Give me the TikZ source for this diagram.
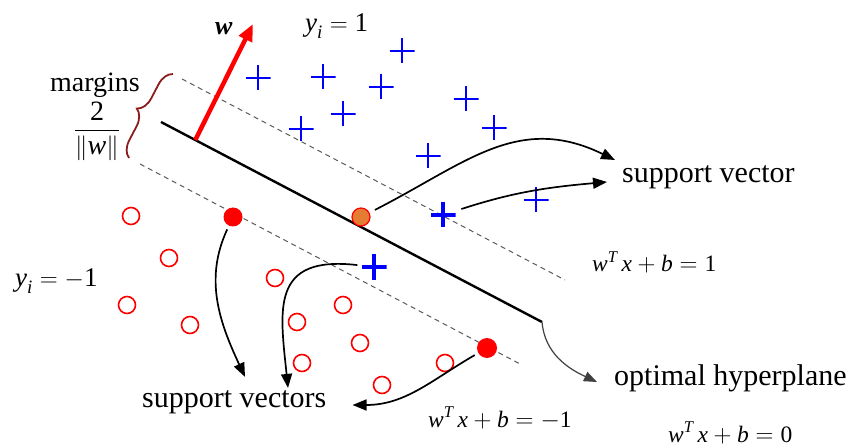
\documentclass[tikz,border=0pt]{standalone}
\usepackage{amsmath}
\usepackage{fontspec}
\setmainfont{Liberation Serif}
\usetikzlibrary{arrows.meta,calc,decorations.pathreplacing}

\definecolor{plusblue}{RGB}{0,0,255}
\definecolor{svorange}{RGB}{228,124,52}
\definecolor{bracered}{RGB}{140,28,28}
\newcommand{\vr}[1]{\textit{#1}}

\begin{document}
\begin{tikzpicture}[x=1pt,y=-1pt,
  hyper/.style={line width=2.4pt},
  marginline/.style={gray!70!black,line width=1pt,dash pattern=on 5pt off 4pt},
  conn/.style={line width=1.7pt,-{Triangle[length=14pt,width=11pt]},shorten <=4pt},
  opendot/.style={circle,draw=red,line width=1.6pt,minimum size=17pt,inner sep=0pt},
  svdot/.style={circle,fill=red,minimum size=19pt,inner sep=0pt},
  plusmark/.style={rectangle,minimum size=25pt,inner sep=0pt,
    path picture={\draw[plusblue,line width=2.2pt]
      (path picture bounding box.west) -- (path picture bounding box.east)
      (path picture bounding box.north) -- (path picture bounding box.south);}},
  svplus/.style={rectangle,minimum size=25pt,inner sep=0pt,
    path picture={\draw[plusblue,line width=4.6pt]
      (path picture bounding box.west) -- (path picture bounding box.east)
      (path picture bounding box.north) -- (path picture bounding box.south);}},
  lbl/.style={inner sep=0pt,font=\fontsize{30}{35}\selectfont},
  eqn/.style={inner sep=0pt,font=\fontsize{23.5}{28}\selectfont}]
\useasboundingbox (0,0) rectangle (856,446);

% hyperplane and margins
\coordinate (h1) at (161,122);
\coordinate (h2) at (542,322);
\coordinate (u1) at (182,79);
\coordinate (u2) at (565,280);
\coordinate (l1) at (140,164);
\coordinate (l2) at (522,365);
\draw[marginline] (u1) -- (u2);
\draw[marginline] (l1) -- (l2);
\draw[hyper] (h1) -- (h2);

% normal vector w
\coordinate (wtip) at (253,24);
\draw[red,line width=4.5pt,-{Triangle[length=17pt,width=14pt]}] ($(h1)!0.09!(h2)$) -- (wtip);
\node[inner sep=0pt,anchor=base west,font=\fontsize{26}{30}\selectfont] (wlab) at (215,35) {\textbf{\vr{w}}};

% margin brace
\coordinate (b1) at (129,158);
\coordinate (b2) at (173,74);
\draw[bracered,line width=1.8pt,decorate,decoration={brace,amplitude=16pt}] (b1) -- (b2);
\node[lbl,font=\fontsize{28}{32}\selectfont,anchor=base] (mlab) at (95,92) {margins};
\node[lbl,font=\fontsize{28}{32}\selectfont] (mfrac) at (97,131) {$\dfrac{\textrm{2}}{\|\vr{w}\|}$};

% class +1
\foreach \px/\py [count=\i] in {258/78,323/77,402/51,381/87,343/114,301/129,466/99,494/128,428/156,536/200}
  \node[plusmark] (p\i) at (\px,\py) {};
\node[svplus] (sv1) at (443,215) {};
\node[svplus] (sv3) at (374,267) {};

% class -1
\foreach \px/\py [count=\i] in {131/216,169/258,127/305,190/325,275/278,343/305,297/322,360/343,302/363,382/385,445/363}
  \node[opendot] (n\i) at (\px,\py) {};
\node[svdot] (sv2) at (233,217) {};
\node[svdot,minimum size=20pt] (sv4) at (487,348) {};
\node[circle,fill=svorange,draw=red,line width=1.2pt,minimum size=18pt,inner sep=0pt] (sv0) at (361,217) {};

% labels
\node[eqn,anchor=base west,font=\fontsize{27}{32}\selectfont] (ypos) at (305,32) {$\vr{y}_{\vr{i}}=\textrm{1}$};
\node[eqn,anchor=base west,font=\fontsize{27}{32}\selectfont] (yneg) at (15,287) {$\vr{y}_{\vr{i}}=-\textrm{1}$};
\node[lbl,anchor=base west] (lsv) at (622,183) {support vector};
\node[lbl,anchor=base west] (lsvs) at (142,407) {support vectors};
\node[lbl,anchor=base west] (lop) at (614,385) {optimal hyperplane};
\node[eqn,anchor=base west] (eup) at (592,272) {$\vr{w}^{\vr{T}}\,\vr{x}+\vr{b}=\textrm{1}$};
\node[eqn,anchor=base west] (elow) at (428,427) {$\vr{w}^{\vr{T}}\,\vr{x}+\vr{b}=-\textrm{1}$};
\node[eqn,anchor=base west] (emid) at (668,442) {$\vr{w}^{\vr{T}}\,\vr{x}+\vr{b}=\textrm{0}$};

% pointers
\draw[conn,shorten <=6pt] (sv0) to[out=27,in=154,looseness=1.1] ([shift={(-7,-23)}]lsv.base west);
\draw[conn,shorten <=6pt] (sv1) to[out=18,in=185] ([shift={(-15,-1)}]lsv.base west);
\draw[conn] (sv2) to[out=245,in=115] ([shift={(103,-13)}]lsvs.north west);
\draw[conn] (sv3) .. controls (270,255) and (280,310) .. ([shift={(146,-2)}]lsvs.north west);
\draw[conn] (sv4) to[out=210,in=0] ([shift={(26,-2)}]lsvs.base east);
\draw[gray!50!black,line width=1.2pt,-{Triangle[length=13pt,width=10pt]}] (h2) to[out=-85,in=155] ([shift={(-17,-3)}]lop.base west);
\end{tikzpicture}
\end{document}
